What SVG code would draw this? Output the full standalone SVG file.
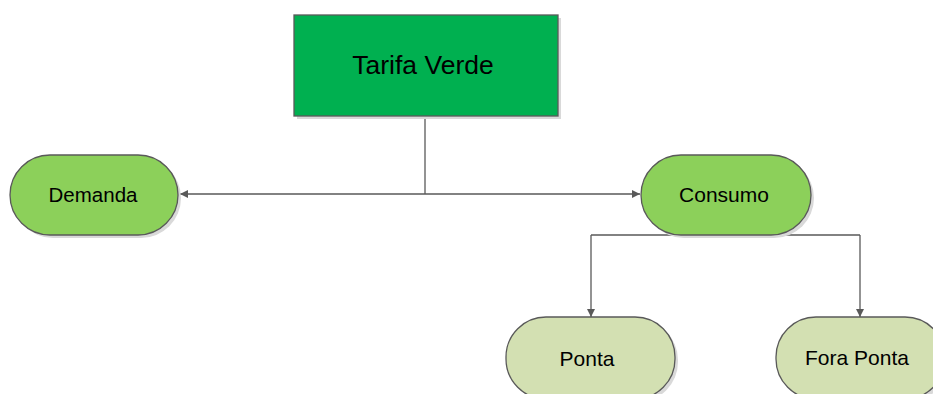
<svg xmlns="http://www.w3.org/2000/svg" width="933" height="394" viewBox="0 0 933 394">
<style>
.lbl{font-family:"Liberation Sans",Arial,sans-serif;fill:#000;text-anchor:middle;dominant-baseline:central}
.node{stroke:#595959;stroke-width:1.3}
.shadow{fill:#d9d9d9}
.conn{fill:none;stroke:#595959;stroke-width:1.3}
</style>
<defs>
<marker id="arr" viewBox="0 0 10 10" refX="10" refY="5" markerWidth="8" markerHeight="8" markerUnits="userSpaceOnUse" orient="auto">
<path d="M0,0 L10,5 L0,10 z" fill="#595959"/>
</marker>
</defs>
<g id="connectors">
<path class="conn" d="M425,116 V194"/>
<path class="conn" d="M425,194 H180" marker-end="url(#arr)"/>
<path class="conn" d="M425,194 H640" marker-end="url(#arr)"/>
<path class="conn" d="M591,235 H860"/>
<path class="conn" d="M591,235 V317" marker-end="url(#arr)"/>
<path class="conn" d="M860,235 V317" marker-end="url(#arr)"/>
</g>
<g id="tarifa-verde">
<rect class="shadow" x="297" y="18" width="264" height="101"/>
<rect class="node" x="294" y="15" width="264" height="101" fill="#00B050"/>
<text class="lbl" x="423" y="65" font-size="26.5">Tarifa Verde</text>
</g>
<g id="demanda">
<rect class="shadow" x="13" y="158" width="168" height="80" rx="40"/>
<rect class="node" x="10" y="155" width="168" height="80" rx="40" fill="#8CD05A"/>
<text class="lbl" x="93" y="194" font-size="20.5">Demanda</text>
</g>
<g id="consumo">
<rect class="shadow" x="644" y="158" width="170" height="80" rx="40"/>
<rect class="node" x="641" y="155" width="170" height="80" rx="40" fill="#8CD05A"/>
<text class="lbl" x="724" y="194" font-size="21">Consumo</text>
</g>
<g id="ponta">
<rect class="shadow" x="509" y="320" width="169" height="82" rx="40"/>
<rect class="node" x="506" y="317" width="169" height="82" rx="40" fill="#D3E0B2"/>
<text class="lbl" x="587" y="358" font-size="21">Ponta</text>
</g>
<g id="fora-ponta">
<rect class="shadow" x="779" y="320" width="169" height="82" rx="40"/>
<rect class="node" x="776" y="317" width="169" height="82" rx="40" fill="#D3E0B2"/>
<text class="lbl" x="857" y="357" font-size="21">Fora Ponta</text>
</g>
</svg>
